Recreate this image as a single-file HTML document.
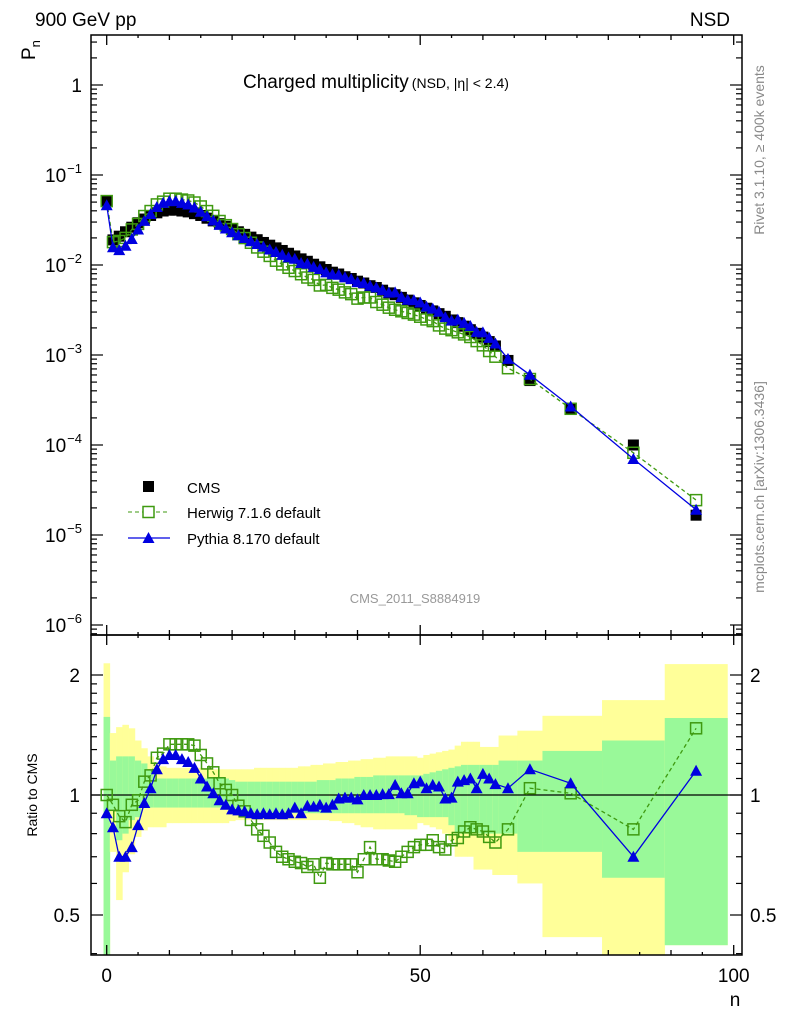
<!DOCTYPE html>
<html><head><meta charset="utf-8"><style>
html,body{margin:0;padding:0;background:#fff;}
svg{display:block;font-family:"Liberation Sans",sans-serif;}
</style></head><body>
<svg id="chart" width="786" height="1024" viewBox="0 0 786 1024">
<g id="bands"></g>
<g id="axes"></g>
<g id="series"></g>
<text x="35" y="26" font-size="19">900 GeV pp</text>
<text x="730" y="26" font-size="19" text-anchor="end">NSD</text>
<text x="243" y="88" font-size="19">Charged multiplicity<tspan font-size="14" dx="3">(NSD, |η| &lt; 2.4)</tspan></text>
<text x="415" y="603" font-size="13" fill="#999" text-anchor="middle">CMS_2011_S8884919</text>
<text transform="translate(764,150) rotate(-90)" font-size="14" fill="#888" text-anchor="middle">Rivet 3.1.10, ≥ 400k events</text>
<text transform="translate(764,487) rotate(-90)" font-size="14" fill="#888" text-anchor="middle">mcplots.cern.ch [arXiv:1306.3436]</text>
<text transform="translate(35,60) rotate(-90)" font-size="19">P<tspan font-size="13" dy="5">n</tspan></text>
<text transform="translate(37,795) rotate(-90)" font-size="14" text-anchor="middle">Ratio to CMS</text>
<text x="735" y="1006" font-size="19" text-anchor="middle">n</text>
<g>
<rect x="143" y="481" width="11" height="11" fill="#000"/>
<text x="187" y="493" font-size="15">CMS</text>
<line x1="128" y1="512" x2="170" y2="512" stroke="#3f9a10" stroke-dasharray="4,3"/>
<rect x="143" y="506.5" width="11" height="11" fill="#fff" stroke="#3f9a10" stroke-width="1.5"/>
<text x="187" y="518" font-size="15">Herwig 7.1.6 default</text>
<line x1="128" y1="538" x2="170" y2="538" stroke="#0000e0" stroke-width="1.3"/>
<polygon points="148.5,532 154.5,543 142.5,543" fill="#0000e0"/>
<text x="187" y="544" font-size="15">Pythia 8.170 default</text>
</g>
</svg>
<script>
const nVals = [0,1,2,3,4,5,6,7,8,9,10,11,12,13,14,15,16,17,18,19,20,21,22,23,24,25,26,27,28,29,30,31,32,33,34,35,36,37,38,39,40,41,42,43,44,45,46,47,48,49,50,51,52,53,54,55,56,57,58,59,60,61,62,64,67.5,74,84,94];
const binLo = [-0.5,0.5,1.5,2.5,3.5,4.5,5.5,6.5,7.5,8.5,9.5,10.5,11.5,12.5,13.5,14.5,15.5,16.5,17.5,18.5,19.5,20.5,21.5,22.5,23.5,24.5,25.5,26.5,27.5,28.5,29.5,30.5,31.5,32.5,33.5,34.5,35.5,36.5,37.5,38.5,39.5,40.5,41.5,42.5,43.5,44.5,45.5,46.5,47.5,48.5,49.5,50.5,51.5,52.5,53.5,54.5,55.5,56.5,57.5,58.5,59.5,60.5,61.5,62.5,65.5,69.5,79,89];
const binHi = [0.5,1.5,2.5,3.5,4.5,5.5,6.5,7.5,8.5,9.5,10.5,11.5,12.5,13.5,14.5,15.5,16.5,17.5,18.5,19.5,20.5,21.5,22.5,23.5,24.5,25.5,26.5,27.5,28.5,29.5,30.5,31.5,32.5,33.5,34.5,35.5,36.5,37.5,38.5,39.5,40.5,41.5,42.5,43.5,44.5,45.5,46.5,47.5,48.5,49.5,50.5,51.5,52.5,53.5,54.5,55.5,56.5,57.5,58.5,59.5,60.5,61.5,62.5,65.5,69.5,79,89,99];
const cmsP = [0.0513,0.019,0.0209,0.0234,0.0263,0.0295,0.0324,0.0355,0.038,0.0398,0.0407,0.0407,0.0398,0.0389,0.0372,0.0355,0.0331,0.0309,0.0288,0.0269,0.0251,0.0234,0.0219,0.0204,0.0191,0.0178,0.0166,0.0155,0.0145,0.0135,0.0126,0.0117,0.011,0.0102,0.00955,0.00891,0.00832,0.00794,0.00741,0.00708,0.00661,0.00631,0.00589,0.00562,0.00525,0.0049,0.00468,0.00437,0.00407,0.0038,0.00355,0.00331,0.00309,0.00288,0.00269,0.00245,0.00229,0.00209,0.00191,0.00174,0.00158,0.00141,0.00126,0.00087,0.00052,0.00025,0.0001,0.0000166];
const herwigRatio = [1.0,0.945,0.885,0.855,0.945,0.97,1.08,1.12,1.24,1.27,1.34,1.34,1.34,1.34,1.33,1.26,1.2,1.14,1.07,1.03,1.0,0.94,0.91,0.866,0.82,0.79,0.76,0.72,0.7,0.69,0.68,0.675,0.66,0.67,0.62,0.675,0.67,0.67,0.67,0.67,0.64,0.69,0.74,0.69,0.69,0.685,0.68,0.7,0.72,0.74,0.75,0.75,0.77,0.74,0.73,0.77,0.78,0.81,0.83,0.82,0.81,0.785,0.76,0.82,1.04,1.01,0.82,1.47];
const pythiaRatio = [0.9,0.83,0.7,0.7,0.74,0.84,0.955,1.04,1.16,1.23,1.26,1.26,1.23,1.21,1.17,1.1,1.05,1.01,0.97,0.945,0.92,0.915,0.91,0.9,0.895,0.9,0.895,0.9,0.895,0.9,0.93,0.9,0.94,0.935,0.945,0.93,0.945,0.98,0.985,0.985,0.975,1.0,1.0,1.0,1.005,1.005,1.06,1.01,1.01,1.07,1.08,1.04,1.06,1.05,0.98,0.985,1.08,1.09,1.1,1.04,1.13,1.1,1.065,1.04,1.16,1.07,0.7,1.15];
const yellowHi = [2.14,1.43,1.48,1.5,1.47,1.37,1.31,1.25,1.2,1.18,1.17,1.17,1.17,1.17,1.17,1.17,1.16,1.16,1.16,1.16,1.16,1.16,1.16,1.16,1.17,1.17,1.17,1.17,1.17,1.17,1.17,1.18,1.18,1.19,1.19,1.2,1.2,1.21,1.21,1.22,1.22,1.23,1.23,1.24,1.24,1.25,1.25,1.25,1.25,1.25,1.24,1.26,1.27,1.28,1.29,1.3,1.33,1.36,1.36,1.36,1.32,1.32,1.32,1.41,1.45,1.58,1.73,2.13];
const yellowLo = [0.3,0.72,0.545,0.64,0.71,0.785,0.815,0.83,0.83,0.83,0.85,0.85,0.85,0.85,0.85,0.85,0.85,0.85,0.85,0.85,0.86,0.865,0.865,0.865,0.865,0.865,0.865,0.865,0.865,0.865,0.865,0.865,0.865,0.865,0.865,0.865,0.86,0.86,0.85,0.85,0.84,0.83,0.83,0.82,0.82,0.82,0.82,0.82,0.82,0.82,0.85,0.84,0.83,0.82,0.8,0.77,0.7,0.7,0.7,0.65,0.65,0.65,0.63,0.63,0.6,0.44,0.3,0.42];
const greenHi = [1.57,1.22,1.25,1.25,1.25,1.22,1.2,1.16,1.1,1.1,1.1,1.1,1.1,1.1,1.1,1.1,1.1,1.1,1.1,1.1,1.09,1.08,1.08,1.08,1.08,1.08,1.08,1.08,1.08,1.08,1.08,1.08,1.08,1.08,1.09,1.09,1.09,1.1,1.1,1.1,1.11,1.11,1.11,1.12,1.12,1.12,1.12,1.12,1.12,1.12,1.12,1.13,1.14,1.15,1.16,1.17,1.18,1.19,1.19,1.19,1.19,1.19,1.19,1.22,1.22,1.29,1.37,1.56];
const greenLo = [0.3,0.92,0.77,0.8,0.865,0.88,0.93,0.93,0.93,0.93,0.93,0.93,0.93,0.93,0.93,0.93,0.93,0.93,0.93,0.93,0.92,0.91,0.9,0.9,0.9,0.9,0.9,0.9,0.9,0.9,0.9,0.9,0.9,0.9,0.9,0.9,0.9,0.9,0.9,0.9,0.9,0.9,0.9,0.9,0.9,0.9,0.9,0.9,0.89,0.89,0.88,0.88,0.88,0.88,0.88,0.84,0.8,0.8,0.8,0.8,0.8,0.8,0.8,0.8,0.72,0.72,0.62,0.42];
const yTopTicks = [1,0.1,0.01,0.001,0.0001,0.00001,0.000001];
const yTopLabels = ["1","10","10","10","10","10","10"];
const yTopExp = ["","−1","−2","−3","−4","−5","−6"];
const ratioTicks = [0.5,1,2];
const xTicks = [0,50,100];

const NS='http://www.w3.org/2000/svg';
const L=91,R=742,T=35,MID=635,B=955;
const X=n=>106.7+6.27*n;
const YT=p=>85-90*Math.log10(p);
const YR=r=>Math.max(MID,Math.min(B,795-120*Math.log2(r)));
function mk(tag,attrs,parent){const e=document.createElementNS(NS,tag);for(const k in attrs)e.setAttribute(k,attrs[k]);parent.appendChild(e);return e;}
const bands=document.getElementById('bands'),axes=document.getElementById('axes'),series=document.getElementById('series');

for(let i=0;i<nVals.length;i++){
  const x1=X(binLo[i]),x2=X(binHi[i]);
  const y=mk('rect',{x:x1,y:YR(yellowHi[i]),width:x2-x1+0.3,height:YR(yellowLo[i])-YR(yellowHi[i]),fill:'#ffff99'},bands);
  
  
  const g=mk('rect',{x:x1,y:YR(greenHi[i]),width:x2-x1+0.3,height:YR(greenLo[i])-YR(greenHi[i]),fill:'#99f999'},bands);
  
  
}

const f1=mk('rect',{x:L,y:T,width:R-L,height:MID-T,fill:'none',stroke:'#000','stroke-width':1.5},axes);


const f2=mk('rect',{x:L,y:MID,width:R-L,height:B-MID,fill:'none',stroke:'#000','stroke-width':1.5},axes);


const one=mk('line',{x1:L,x2:R,y1:YR(1),y2:YR(1),stroke:'#000','stroke-width':1.2},axes);



for(let v=0;v<=100;v+=5){
  const len=(v%50===0)?10:(v%10===0?5:3);
  [[B,-1],[MID,-1],[MID,1],[T,1]].forEach(([y0,d])=>{
    mk('line',{x1:X(v),x2:X(v),y1:y0,y2:y0+d*len,stroke:'#000','stroke-width':1.3},axes);
  });
}
xTicks.forEach(v=>{
  const t=mk('text',{x:X(v),y:982,'font-size':19,'text-anchor':'middle'},axes);
  t.textContent=String(v);
  
  
});
for(let e=1;e>=-6;e--){
  const base=Math.pow(10,e);
  for(let m=1;m<=9;m++){
    const p=m*base/10;const y=YT(p);
    if(y<T||y>MID)continue;
    const len=m===1?12:6;
    mk('line',{x1:L,x2:L+len,y1:y,y2:y,stroke:'#000','stroke-width':1.2},axes);
    mk('line',{x1:R,x2:R-len,y1:y,y2:y,stroke:'#000','stroke-width':1.2},axes);
  }
}
yTopTicks.forEach((p,i)=>{
  const t=mk('text',{x:82,y:YT(p)+7,'font-size':19,'text-anchor':'end'},axes);
  
  
  const a=mk('tspan',{},t);a.textContent=yTopLabels[i];
  if(yTopExp[i]){const s=mk('tspan',{'font-size':13,dy:-9,dx:1},t);s.textContent=yTopExp[i];}
});
[0.4,0.5,0.6,0.7,0.8,0.9,1,1.1,1.2,1.3,1.4,1.5,1.6,1.7,1.8,1.9,2].forEach(r=>{
  const y=795-120*Math.log2(r);if(y<MID||y>B)return;
  const len=(r===0.5||r===1||r===2)?12:6;
  mk('line',{x1:L,x2:L+len,y1:y,y2:y,stroke:'#000','stroke-width':1.2},axes);
  mk('line',{x1:R,x2:R-len,y1:y,y2:y,stroke:'#000','stroke-width':1.2},axes);
});
ratioTicks.forEach(r=>{
  const y=YR(r)+7;
  const a=mk('text',{x:80,y:y,'font-size':19,'text-anchor':'end'},axes);
  a.textContent=String(r);
  
  
  const b=mk('text',{x:750,y:y,'font-size':19},axes);
  b.textContent=String(r);
  
  
});

const herwigP=cmsP.map((c,i)=>c*herwigRatio[i]);
const pythiaP=cmsP.map((c,i)=>c*pythiaRatio[i]);
function line(vals,yf,color,dash,name){
  const pts=vals.map((v,i)=>X(nVals[i]).toFixed(1)+','+yf(v).toFixed(1)).join(' ');
  const p=mk('polyline',{points:pts,fill:'none',stroke:color,'stroke-width':1.3,'stroke-dasharray':dash||'none'},series);
  
  
}
function squares(vals,yf,filled,name){
  vals.forEach((v,i)=>{
    const x=X(nVals[i]),y=yf(v);
    const r=filled?mk('rect',{x:x-5.5,y:y-5.5,width:11,height:11,fill:'#000'},series):mk('rect',{x:x-5.5,y:y-5.5,width:11,height:11,fill:'none',stroke:'#3f9a10','stroke-width':1.5},series);
    
    
  });
}
function tris(vals,yf,name){
  vals.forEach((v,i)=>{
    const x=X(nVals[i]),y=yf(v);
    const t=mk('polygon',{points:`${x},${y-6} ${x+6},${y+5} ${x-6},${y+5}`,fill:'#0000e0'},series);
    
    
  });
}
squares(cmsP,YT,true,'cms-point');
line(herwigP,YT,'#3f9a10','4,3','herwig-line');
squares(herwigP,YT,false,'herwig-point');
line(pythiaP,YT,'#0000e0',null,'pythia-line');
tris(pythiaP,YT,'pythia-point');
line(herwigRatio,YR,'#3f9a10','4,3','herwig-ratio-line');
squares(herwigRatio,YR,false,'herwig-ratio-point');
line(pythiaRatio,YR,'#0000e0',null,'pythia-ratio-line');
tris(pythiaRatio,YR,'pythia-ratio-point');
</script>
</body></html>
